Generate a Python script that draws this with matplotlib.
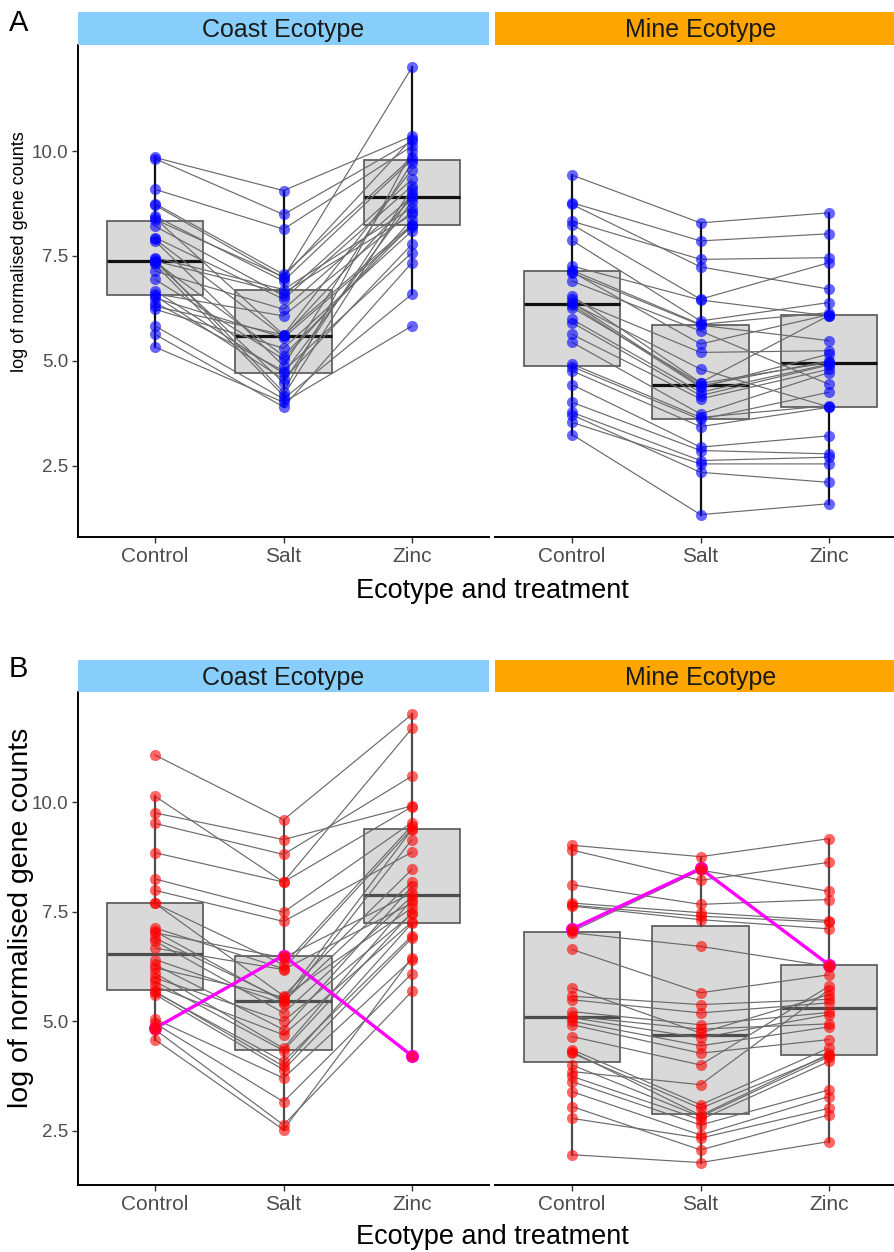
import matplotlib
matplotlib.use("Agg")
import matplotlib.pyplot as plt
import numpy as np

W, H, DPI = 894, 1252, 100
plt.rcParams["font.family"] = ["Liberation Sans", "DejaVu Sans"]

treatments = ["Control", "Salt", "Zinc"]
ecotypes = ["Coast Ecotype", "Mine Ecotype"]
strip_colors = ["#87CEFA", "#FFA500"]
yticks = [2.5, 5.0, 7.5, 10.0]
ytick_labels = ["2.5", "5.0", "7.5", "10.0"]

# ---------------- Panel A (one row per gene, values per treatment) ----------------
a_coast_control = [9.85, 9.82, 9.09, 8.75, 8.71, 8.45, 8.40, 8.37, 8.21, 7.94,
                   7.90, 7.86, 7.46, 7.42, 7.38, 7.36, 7.36, 7.30, 7.14, 6.94,
                   6.67, 6.60, 6.55, 6.50, 6.39, 6.30, 6.23, 5.83, 5.63, 5.33]
a_coast_salt = [9.06, 8.49, 8.14, 7.06, 6.98, 6.90, 5.62, 7.00, 6.55, 6.47,
                5.58, 4.88, 6.70, 4.25, 6.62, 4.48, 5.12, 4.17, 6.23, 5.04,
                4.70, 6.07, 4.56, 5.55, 4.76, 5.62, 5.30, 4.09, 3.90, 4.01]
a_coast_zinc = [10.36, 10.24, 10.12, 9.85, 12.00, 9.80, 9.56, 10.30, 9.33, 9.17,
                8.88, 9.72, 8.65, 10.00, 8.49, 9.10, 8.25, 9.00, 8.92, 8.37,
                8.80, 8.55, 7.78, 8.20, 7.58, 8.25, 8.10, 6.59, 7.34, 5.83]

a_mine_control = [9.43, 8.77, 8.73, 8.33, 8.25, 7.87, 7.26, 7.16, 7.12, 7.10,
                  6.90, 6.55, 6.47, 6.39, 6.37, 6.33, 6.27, 5.99, 5.91, 5.63,
                  5.44, 4.92, 4.86, 4.76, 4.43, 4.01, 3.77, 3.71, 3.53, 3.24]
a_mine_salt = [8.29, 7.86, 7.24, 7.42, 6.47, 5.95, 6.45, 5.87, 5.40, 5.85,
               5.71, 4.48, 5.20, 4.40, 4.80, 4.37, 4.46, 4.25, 4.17, 4.09,
               3.73, 3.65, 3.60, 3.43, 2.94, 2.86, 2.62, 2.34, 2.54, 1.33]
a_mine_zinc = [8.53, 8.03, 6.71, 7.46, 7.34, 6.39, 6.07, 6.15, 6.10, 5.48,
               4.44, 6.08, 5.24, 5.00, 3.90, 5.16, 4.96, 4.92, 4.90, 4.80,
               4.72, 3.93, 4.25, 3.89, 3.21, 2.78, 2.70, 2.10, 2.54, 1.59]

# ---------------- Panel B ----------------
b_coast_control = [11.08, 10.14, 9.76, 9.52, 8.85, 8.25, 7.99, 7.69, 7.69, 7.13,
                   7.05, 7.02, 6.90, 6.83, 6.67, 6.41, 6.29, 6.22, 6.10, 5.99,
                   5.91, 5.80, 5.68, 5.66, 5.61, 5.05, 4.95, 4.84, 4.81, 4.58]
b_coast_salt = [9.60, 8.18, 9.15, 8.81, 8.18, 7.49, 7.28, 6.29, 5.58, 6.20,
                5.45, 6.45, 5.49, 5.19, 6.18, 5.40, 4.81, 5.55, 4.38, 5.00,
                4.33, 4.69, 3.97, 4.08, 3.89, 3.70, 3.16, 6.50, 2.63, 2.52]
b_coast_zinc = [12.01, 11.69, 9.92, 10.60, 9.90, 9.54, 8.86, 9.47, 8.47, 9.40,
                8.18, 7.93, 9.38, 7.85, 7.70, 9.15, 8.08, 7.59, 7.78, 7.45,
                7.48, 7.27, 7.24, 6.95, 6.90, 6.41, 6.09, 4.21, 5.68, 6.45]

b_mine_control = [9.02, 8.91, 8.12, 7.70, 7.65, 7.63, 7.11, 7.05, 7.02, 6.64,
                  5.76, 5.57, 5.49, 5.22, 5.11, 5.08, 5.00, 4.92, 4.65, 4.35,
                  4.30, 4.27, 4.00, 3.85, 3.74, 3.62, 3.39, 3.05, 2.78, 1.95]
b_mine_salt = [8.76, 8.22, 7.67, 7.48, 7.40, 7.32, 8.49, 8.45, 6.71, 5.65,
               4.73, 5.38, 5.19, 4.92, 4.82, 4.62, 4.44, 4.27, 4.00, 3.09,
               2.85, 3.01, 2.82, 3.55, 2.75, 2.63, 2.40, 2.06, 2.33, 1.77]
b_mine_zinc = [9.17, 8.63, 7.78, 7.30, 7.26, 7.11, 6.29, 7.97, 6.25, 6.06,
               5.61, 5.50, 5.42, 5.20, 4.94, 5.15, 4.87, 4.58, 5.80, 4.39,
               4.25, 4.22, 4.19, 5.72, 4.08, 3.43, 3.28, 2.86, 3.01, 2.25]

# highlighted gene (index into the gene lists) in panel B
b_highlight_coast = 27
b_highlight_mine = 6

fig = plt.figure(figsize=(W / DPI, H / DPI), dpi=DPI)


def add_ax(x0, y0, x1, y1):
    return fig.add_axes([x0 / W, 1 - y1 / H, (x1 - x0) / W, (y1 - y0) / H])


def ylim_for(*groups):
    vals = np.concatenate([np.asarray(g) for g in groups])
    lo, hi = vals.min(), vals.max()
    pad = 0.05 * (hi - lo)
    return lo - pad, hi + pad


def draw_facet(ax, ctrl, salt, zinc, pt_color, whisk_color, med_color, ylim,
               show_y, highlight=None):
    data = [ctrl, salt, zinc]
    pos = [1, 2, 3]
    ax.boxplot(data, positions=pos, widths=0.75, whis=1.5, showfliers=False,
               showcaps=False, patch_artist=True, zorder=1,
               boxprops=dict(facecolor="#D9D9D9", edgecolor="#555555", linewidth=1.2),
               medianprops=dict(color=med_color, linewidth=2.3),
               whiskerprops=dict(color=whisk_color, linewidth=1.6))
    for i in range(len(ctrl)):
        if highlight is not None and i == highlight:
            continue
        ax.plot(pos, [ctrl[i], salt[i], zinc[i]], color="#6a6a6a", lw=0.85, zorder=2)
    if highlight is not None:
        i = highlight
        ax.plot(pos, [ctrl[i], salt[i], zinc[i]], color="#FF00FF", lw=2.4, zorder=3,
                marker="o", markersize=8.5, markerfacecolor="#FF00FF",
                markeredgecolor="#FF00FF")
    for x, vals in zip(pos, data):
        ax.scatter([x] * len(vals), vals, s=64, color=pt_color, alpha=0.6,
                   linewidths=0, zorder=4)
    ax.set_xlim(0.4, 3.6)
    ax.set_ylim(*ylim)
    ax.set_xticks(pos)
    ax.set_xticklabels(treatments, fontsize=15, color="#4D4D4D")
    ax.tick_params(axis="x", length=4, width=1, color="#333333", pad=3)
    for s in ["top", "right"]:
        ax.spines[s].set_visible(False)
    ax.spines["bottom"].set_linewidth(1.4)
    ax.spines["bottom"].set_color("black")
    if show_y:
        ax.set_yticks(yticks)
        ax.set_yticklabels(ytick_labels, fontsize=13.5, color="#4D4D4D")
        ax.tick_params(axis="y", length=4, width=1, color="#333333", pad=3)
        ax.spines["left"].set_linewidth(1.4)
        ax.spines["left"].set_color("black")
    else:
        ax.spines["left"].set_visible(False)
        ax.set_yticks([])
    ax.set_facecolor("none")


def draw_strip(x0, y0, x1, y1, label, color):
    s = add_ax(x0, y0, x1, y1)
    s.set_facecolor(color)
    for sp in s.spines.values():
        sp.set_visible(False)
    s.set_xticks([])
    s.set_yticks([])
    s.text(0.5, 0.45, label, ha="center", va="center", fontsize=18,
           color="#1A1A1A", transform=s.transAxes)


facet_x = [(78, 489), (495, 906)]

# ---------- Panel A ----------
ylimA = ylim_for(a_coast_control, a_coast_salt, a_coast_zinc,
                 a_mine_control, a_mine_salt, a_mine_zinc)
panelA = [(a_coast_control, a_coast_salt, a_coast_zinc),
          (a_mine_control, a_mine_salt, a_mine_zinc)]
for k, (x0, x1) in enumerate(facet_x):
    ax = add_ax(x0, 45, x1, 537)
    c, s_, z = panelA[k]
    draw_facet(ax, c, s_, z, "#0000FF", "#111111", "#111111", ylimA, k == 0)
    draw_strip(x0, 12, x1, 45, ecotypes[k], strip_colors[k])

# ---------- Panel B ----------
ylimB = ylim_for(b_coast_control, b_coast_salt, b_coast_zinc,
                 b_mine_control, b_mine_salt, b_mine_zinc)
panelB = [(b_coast_control, b_coast_salt, b_coast_zinc, b_highlight_coast),
          (b_mine_control, b_mine_salt, b_mine_zinc, b_highlight_mine)]
for k, (x0, x1) in enumerate(facet_x):
    ax = add_ax(x0, 692, x1, 1185)
    c, s_, z, hl = panelB[k]
    draw_facet(ax, c, s_, z, "#FF0000", "#4D4D4D", "#4D4D4D", ylimB, k == 0,
               highlight=hl)
    draw_strip(x0, 660, x1, 692, ecotypes[k], strip_colors[k])

# ---------- Titles and labels ----------
fig.text(9 / W, 1 - 23 / H, "A", fontsize=21, ha="left", va="center")
fig.text(9 / W, 1 - 669 / H, "B", fontsize=21, ha="left", va="center")

fig.text(492 / W, 1 - 591 / H, "Ecotype and treatment", fontsize=19.5,
         ha="center", va="center")
fig.text(492 / W, 1 - 1237 / H, "Ecotype and treatment", fontsize=19.5,
         ha="center", va="center")

fig.text(20 / W, 1 - 252 / H, "log of normalised gene counts", fontsize=13,
         rotation=90, ha="center", va="center")
fig.text(21 / W, 1 - 918 / H, "log of normalised gene counts", fontsize=20.5,
         rotation=90, ha="center", va="center")

fig.savefig("out.png", dpi=DPI)
